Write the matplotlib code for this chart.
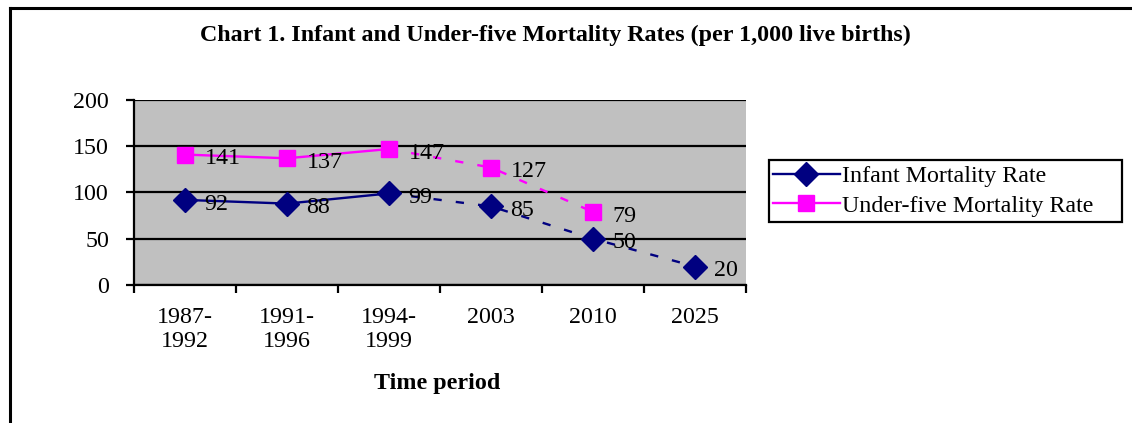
import matplotlib.pyplot as plt
from matplotlib.lines import Line2D
from matplotlib.patches import Rectangle

periods = ["1987-\n1992", "1991-\n1996", "1994-\n1999", "2003", "2010", "2025"]
infant = [92, 88, 99, 85, 50, 20]
under_five = [141, 137, 147, 127, 79]
n_observed = 3  # first three periods are survey data, the rest are targets

plt.rcParams['font.family'] = ['Liberation Serif', 'DejaVu Serif']
FS = 17.3
W, H = 1132, 423

fig = plt.figure(figsize=(W / 100, H / 100), dpi=100)
ax = fig.add_axes([134 / W, 1 - 285 / H, 612 / W, 185 / H])
ax.set_facecolor('#C0C0C0')

navy = '#000080'
pink = '#FF00FF'
x_inf = list(range(len(infant)))
x_u5 = list(range(len(under_five)))

# solid part (observed) and dashed part (projection)
ax.plot(x_inf[:n_observed], infant[:n_observed], color=navy, lw=1.7, zorder=3)
ax.plot(x_inf[n_observed - 1:], infant[n_observed - 1:], color=navy, lw=1.7,
        dashes=(3.5, 6), zorder=3)
ax.plot(x_u5[:n_observed], under_five[:n_observed], color=pink, lw=1.7, zorder=3)
ax.plot(x_u5[n_observed - 1:], under_five[n_observed - 1:], color=pink, lw=1.7,
        dashes=(3.5, 6), zorder=3)
ax.plot(x_inf, infant, ls='none', marker='D', ms=12, color=navy, zorder=4)
ax.plot(x_u5, under_five, ls='none', marker='s', ms=11.5, color=pink, zorder=4)

for xs, ys in [(x_inf, infant), (x_u5, under_five)]:
    for x, y in zip(xs, ys):
        ax.annotate(str(y), (x, y), xytext=(14, -3), textcoords='offset points',
                    ha='left', va='center', fontsize=FS, zorder=5)

ax.set_xlim(-0.5, len(periods) - 0.5)
ax.set_ylim(0, 200)
ax.set_yticks([0, 50, 100, 150, 200])
ax.set_xticks([i + 0.5 for i in range(-1, len(periods))], minor=False)
ax.set_xticklabels([])
ax.set_xticks(range(len(periods)), minor=True)
ax.set_xticklabels(periods, minor=True, fontsize=FS, linespacing=1.2)
ax.tick_params(axis='x', which='minor', length=0, pad=16)
ax.tick_params(axis='x', which='major', length=6, width=1.6, direction='out')
ax.tick_params(axis='y', length=6, width=1.6, labelsize=FS, pad=12)
ax.yaxis.grid(True, color='black', lw=1.6)
ax.set_axisbelow(True)
for side in ['top', 'right']:
    ax.spines[side].set_visible(False)
for side in ['left', 'bottom']:
    ax.spines[side].set_linewidth(1.6)
    ax.spines[side].set_zorder(2)

fig.text(555 / W, 1 - 35 / H,
         "Chart 1. Infant and Under-five Mortality Rates (per 1,000 live births)",
         ha='center', va='center', fontsize=FS, fontweight='bold')
fig.text(437 / W, 1 - 383 / H, "Time period", ha='center', va='center',
         fontsize=FS, fontweight='bold')

handles = [Line2D([], [], color=navy, lw=1.7, marker='D', ms=12),
           Line2D([], [], color=pink, lw=1.7, marker='s', ms=11.5)]
fig.legend(handles, ["Infant Mortality Rate", "Under-five Mortality Rate"],
           loc='center left', bbox_to_anchor=(769 / W, 1 - 191 / H),
           fontsize=FS, frameon=False, handlelength=2.8, handletextpad=0.1,
           borderpad=0.15, labelspacing=0.33, borderaxespad=0)
# legend box is wider than its entries
fig.add_artist(Rectangle((769 / W, 1 - 222 / H), 353 / W, 62 / H, fill=False,
                         edgecolor='black', lw=1.6, transform=fig.transFigure))

# outer chart border (only left and top edges are inside the image)
fig.add_artist(Line2D([9.5 / W, 9.5 / W], [0, 1 - 8.5 / H], color='black',
                      lw=2.2, transform=fig.transFigure))
fig.add_artist(Line2D([9.5 / W, 1], [1 - 8.5 / H, 1 - 8.5 / H], color='black',
                      lw=2.2, transform=fig.transFigure))

fig.savefig('out.png', dpi=100)
